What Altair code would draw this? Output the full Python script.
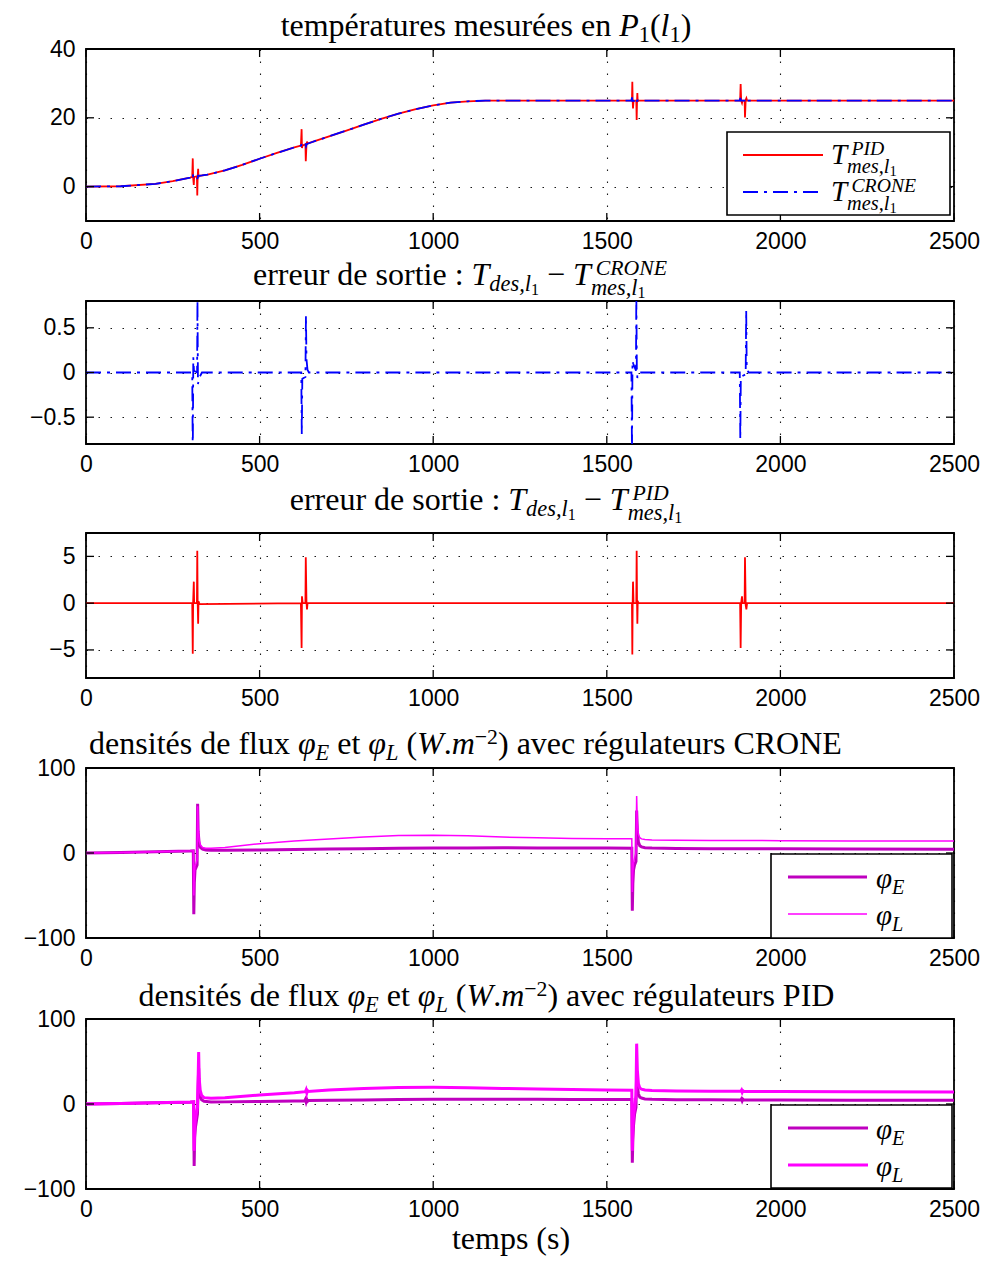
import altair as alt
import pandas as pd

SERIF = "Liberation Serif"
SANS = "Liberation Sans"
W = 868
LEFT = 77          # room left of every plot area (plot starts at page x = 8 + LEFT)
XT = [0, 500, 1000, 1500, 2000, 2500]

# ---------------- data ----------------
# panel 1 : measured temperature, PID
pid1_t = [0, 100, 200, 250, 300, 306, 307.5, 308.5, 310.5, 311.5, 319.5, 320.5, 321.5, 323, 324,
          327, 350, 400, 450, 500, 550, 600, 619, 621, 622, 624, 632, 633, 635, 636.5, 638, 650,
          700, 750, 800, 850, 900, 950, 1000, 1050, 1100, 1150, 1200, 1300, 1570, 1572.5, 1573.5,
          1574.5, 1575.5, 1577, 1585, 1586, 1587, 1588, 1589, 1592, 1884, 1885.5, 1887, 1889.4,
          1891, 1897, 1898, 1900, 1902, 1904, 2500]
pid1_v = [0, 0.1, 0.8, 1.6, 2.6, 2.8, 8.2, 2.8, 0.5, 2.8, 3.0, -2.6, 2.6, 5.2, 2.8,
          3.1, 3.5, 4.7, 6.3, 8.1, 9.8, 11.4, 11.9, 16.7, 11.2, 12.0, 12.3, 7.4, 12.2, 13.1, 12.5, 12.9,
          14.6, 16.3, 18.0, 19.7, 21.2, 22.5, 23.6, 24.4, 24.8, 25.0, 25.0, 25.0, 25.0, 25.0, 30.5,
          25.0, 22.7, 25.0, 25.0, 19.4, 24.6, 27.2, 24.8, 25.0, 25.0, 29.8, 25.0, 24.3,
          25.0, 25.0, 20.1, 25.2, 25.7, 25.0, 25.0]
# panel 1 : measured temperature, CRONE
crone1_t = [0, 100, 200, 250, 300, 306, 307.5, 309, 311, 320, 321, 322.5, 326, 334, 350, 400, 450,
            500, 550, 600, 620, 621.5, 623, 632, 633.5, 635, 638, 642, 650, 700, 750, 800, 850, 900,
            950, 1000, 1050, 1100, 1150, 1200, 1300, 1571, 1572.5, 1574, 1576, 1584, 1585, 1586.5,
            1588, 1594, 1883, 1884.5, 1886, 1900, 1901.5, 1903, 1908, 2500]
crone1_v = [0, 0.1, 0.8, 1.6, 2.6, 2.8, 3.75, 2.65, 2.85, 3.0, 2.15, 3.15, 3.15, 3.25, 3.5, 4.7, 6.3,
            8.1, 9.8, 11.4, 11.95, 12.65, 12.05, 12.35, 11.7, 12.2, 12.45, 12.6, 12.9, 14.6, 16.3, 18.0, 19.7, 21.2,
            22.5, 23.6, 24.4, 24.8, 25.0, 25.0, 25.0, 25.0, 25.9, 24.87, 24.9, 24.98, 24.1, 24.95,
            25.06, 25.0, 25.0, 25.75, 25.05, 25.02, 24.3, 24.94, 25.0, 25.0]
# panel 2 : output error, CRONE
errc_t = [0, 306, 307.5, 309, 311, 320, 321, 322.5, 326, 334, 620, 621.5, 623, 632, 633.5, 635, 638,
          642, 1571, 1572.5, 1574, 1576, 1584, 1585, 1586.5, 1588, 1594, 1883, 1884.5, 1886, 1900,
          1901.5, 1903, 1908, 2500]
errc_v = [0, 0, -0.95, 0.17, 0.02, 0, 0.85, -0.13, -0.06, 0, 0, -0.69, -0.07, -0.05, 0.64, 0.15, 0.03,
          0, 0, -0.9, 0.13, 0.1, 0.02, 0.9, 0.05, -0.06, 0, 0, -0.75, -0.05, -0.02,
          0.7, 0.06, 0, 0]
# panel 3 : output error, PID
errp_t = [0, 306, 307.5, 308.5, 310.5, 311.5, 319.5, 320.5, 321.5, 323, 324, 327, 619, 621, 622, 624,
          632, 633, 635, 636.5, 638, 1570, 1572.5, 1573.5, 1574.5, 1575.5, 1577, 1585, 1586, 1587,
          1588, 1589, 1592, 1884, 1885.5, 1887, 1889.4, 1891, 1897, 1898, 1900, 1902, 1904, 2500]
errp_v = [0, 0, -5.4, 0, 2.3, 0, 0, 5.6, 0.4, -2.2, 0.2, -0.1, 0, -4.8, 0.74, 0,
          0, 4.9, 0.1, -0.67, 0, 0, 0, -5.5, 0, 2.3, 0, 0, 5.6, 0.4,
          -2.2, 0.2, 0, 0, -4.8, 0, 0.74, 0, 0, 4.9, -0.2, -0.67, 0, 0]
# panel 4 : flux densities, CRONE
phic_t = [0, 100, 200, 300, 309, 310.5, 312, 314, 317, 320, 321.5, 323, 326, 330, 336, 345, 360, 400,
          500, 600, 700, 800, 900, 1000, 1100, 1200, 1300, 1400, 1500, 1572, 1573.5, 1575, 1577, 1580,
          1584, 1586, 1588, 1591, 1595, 1600, 1610, 1630, 1700, 1800, 2000, 2200, 2500]
phiEc_v = [0, 0.6, 1.5, 2.4, 2.6, -72, -35, -20, -17, -14, 58, 25, 11, 6.5, 4.5, 3.6, 3.2, 3.3,
           3.6, 4.0, 4.6, 5.1, 5.5, 5.8, 6.0, 6.1, 6.0, 5.9, 5.8, 5.7, -68, -36, -20, -14,
           -10, 50, 26, 13, 8.5, 7.2, 6.3, 5.8, 5.4, 5.1, 4.9, 4.7, 4.5]
phiLc_v = [0, 0.6, 1.5, 2.5, 2.7, -50, -25, -15, -12, -8, 55, 30, 14, 9, 6.5, 5.5, 5.6, 6.5,
           11.0, 14.0, 16.5, 18.8, 20.5, 21.0, 20.2, 18.8, 17.8, 17.2, 16.9, 16.8, -46, -22, -12, -6,
           0, 67, 35, 22, 18, 16.6, 15.8, 15.3, 15.0, 14.8, 14.5, 14.2, 14.0]
# panel 5 : flux densities, PID
phiEp_t = [0, 100, 200, 300, 310, 311.5, 313, 315, 318, 321, 323, 324.5, 326, 329, 333, 340, 360, 400,
           500, 600, 630, 632, 634, 636, 638, 640, 700, 800, 900, 1000, 1100, 1200, 1300, 1400, 1500,
           1572, 1573.5, 1575, 1577, 1580, 1584, 1586, 1588, 1591, 1595, 1600, 1610, 1630, 1700, 1800,
           1886, 1888, 1890, 1892, 1894, 2000, 2200, 2500]
phiEp_v = [0, 0.6, 1.4, 2.2, 2.5, -73, -40, -28, -20, -12, 20, 42, 20, 9, 5, 3.2, 2.4, 2.5,
           3.0, 3.6, 3.9, 5.5, 2.5, 5.2, 3.2, 4.0, 4.3, 4.8, 5.2, 5.5, 5.6, 5.6, 5.5, 5.4, 5.3,
           5.3, -69, -42, -25, -12, -4, 35, 22, 12, 8, 7, 6, 5.5, 5.1, 4.9,
           4.8, 6.0, 3.8, 5.6, 4.8, 4.7, 4.5, 4.4]
phiLp_t = [0, 100, 200, 300, 310, 311.5, 313, 315, 318, 321, 323, 324.5, 326, 329, 333, 340, 360, 400,
           500, 600, 632, 634, 636, 638, 640, 700, 800, 900, 1000, 1100, 1200, 1300, 1400, 1500,
           1572, 1573.5, 1575, 1577, 1580, 1584, 1586, 1588, 1591, 1595, 1600, 1610, 1630, 1700, 1800,
           1886, 1888, 1890, 1892, 1894, 2000, 2200, 2500]
phiLp_v = [0, 0.6, 1.4, 2.3, 2.6, -55, -28, -18, -10, -4, 30, 61, 30, 16, 10, 7.5, 6.7, 7.4,
           10.6, 13.3, 14.5, 16.5, 13.0, 15.8, 14.8, 16.5, 18.3, 19.3, 19.6, 19.2, 18.3, 17.6, 17.0, 16.5,
           16.1, -55, -28, -14, -4, 10, 71, 40, 24, 19, 17.5, 16.5, 15.8, 15.3, 15.0,
           14.9, 16.2, 13.8, 15.6, 14.8, 14.6, 14.3, 14.1]

for a, b in [(pid1_t, pid1_v), (crone1_t, crone1_v), (errc_t, errc_v), (errp_t, errp_v),
             (phic_t, phiEc_v), (phic_t, phiLc_v), (phiEp_t, phiEp_v), (phiLp_t, phiLp_v)]:
    assert len(a) == len(b), (len(a), len(b))

# ---------------- rich text helpers ----------------
ONE = pd.DataFrame({"d": [0]})
WR = {" ": .25, "(": .333, ")": .333, ",": .25, ".": .25, ":": .278, "−": .564,
      "a": .444, "b": .5, "c": .444, "d": .5, "e": .444, "f": .333, "g": .5, "h": .5, "i": .278,
      "l": .278, "m": .778, "n": .5, "o": .5, "p": .5, "r": .333, "s": .389, "t": .278, "u": .5,
      "v": .5, "x": .5, "é": .444, "C": .667, "D": .722, "E": .611, "I": .333, "N": .722,
      "O": .722, "P": .556, "R": .667, "T": .611}
WI = {" ": .25, ",": .25, ".": .25, "d": .5, "e": .444, "l": .278, "m": .722, "s": .389,
      "C": .667, "D": .722, "E": .611, "I": .333, "L": .556, "N": .667, "O": .722, "P": .611,
      "R": .611, "T": .556, "W": .833, "φ": .55}
LEVELS = {"n": (1.0, 0.0), "sup": (0.68, -0.3), "sub": (0.7, 0.2), "ssub": (0.7, 0.3),
          "sub2": (0.5, 0.3), "ssub2": (0.5, 0.42)}
ITALIC_CORR = 0.15


def seg_w(text, italic, size):
    tbl = WI if italic else WR
    return sum(tbl.get(c, 0.5) for c in text) * size


def layout_parts(parts, S):
    out = []
    x = 0.0

    def put(st, txt, lv, xx):
        f, d = LEVELS[lv]
        sz = S * f
        it = st == "i"
        lead = len(txt) - len(txt.lstrip(" "))
        out.append((txt.strip(" "), it, xx + lead * seg_w(" ", it, sz), d * S, sz))
        return xx + seg_w(txt, it, sz)

    for p in parts:
        if p[0] == "stack":
            wmax = 0.0
            for k, grp in enumerate((p[1], p[2])):
                xx = x + (ITALIC_CORR * S if k == 0 else 0.0)
                for (st, txt, lv) in grp:
                    xx = put(st, txt, lv, xx)
                wmax = max(wmax, xx - x)
            x += wmax
        else:
            x = put(p[0], p[1], p[2], x)
    return out, x


def rich_text(parts, x, y, S, anchor="left"):
    segs, w = layout_parts(parts, S)
    x0 = x - w / 2 if anchor == "center" else x
    layers = []
    for (txt, it, dx, dy, sz) in segs:
        layers.append(
            alt.Chart(ONE).mark_text(text=txt, font=SERIF, fontSize=sz,
                                     fontStyle="italic" if it else "normal",
                                     align="left", baseline="alphabetic", color="black")
            .encode(x=alt.value(x0 + dx), y=alt.value(y + dy)))
    return layers


def ghost(x, y):
    return alt.Chart(ONE).mark_rule(opacity=0, strokeWidth=0.5).encode(
        x=alt.value(x), x2=alt.value(x + 0.5), y=alt.value(y))


def hline(x1, x2, y, color, width, dash=None):
    kw = dict(color=color, strokeWidth=width)
    if dash:
        kw["strokeDash"] = dash
    return alt.Chart(ONE).mark_rule(**kw).encode(x=alt.value(x1), x2=alt.value(x2), y=alt.value(y))


def box(x1, x2, y1, y2):
    return alt.Chart(ONE).mark_rect(fill="white", stroke="black", strokeWidth=1.6).encode(
        x=alt.value(x1), x2=alt.value(x2), y=alt.value(y1), y2=alt.value(y2))


DASHDOT = [15, 6, 3, 6]
RED, BLUE, MAG_E, MAG_L = "#ff0000", "#0000ff", "#bf00bf", "#ff00ff"


def make_panel(h, ydom, yticks, series, extras, top_ext, bot_ext, yfmt=None):
    xe = alt.X("t:Q", scale=alt.Scale(domain=[0, 2500], nice=False, zero=False),
               axis=alt.Axis(values=XT, title=None, format="d"))
    yaxis = dict(values=yticks, title=None)
    if yfmt:
        yaxis["format"] = yfmt
    ye = alt.Y("v:Q", scale=alt.Scale(domain=ydom, nice=False, zero=False), axis=alt.Axis(**yaxis))
    layers = []
    for (tt, vv, color, width, dash) in series:
        kw = dict(color=color, strokeWidth=width, clip=True)
        if dash:
            kw["strokeDash"] = dash
        layers.append(alt.Chart(pd.DataFrame({"t": tt, "v": vv})).mark_line(**kw).encode(x=xe, y=ye))
    xtd = pd.DataFrame({"t": XT})
    ytd = pd.DataFrame({"v": yticks})
    layers.append(alt.Chart(xtd).mark_rule(color="black", strokeWidth=1.3).encode(
        x=xe, y=alt.value(0), y2=alt.value(8)))
    layers.append(alt.Chart(xtd).mark_rule(color="black", strokeWidth=1.3).encode(
        x=xe, y=alt.value(h - 8), y2=alt.value(h)))
    layers.append(alt.Chart(ytd).mark_rule(color="black", strokeWidth=1.3).encode(
        y=ye, x=alt.value(0), x2=alt.value(8)))
    layers.append(alt.Chart(ytd).mark_rule(color="black", strokeWidth=1.3).encode(
        y=ye, x=alt.value(W - 8), x2=alt.value(W)))
    layers += extras
    layers += [ghost(-LEFT, 0), ghost(W + 25, 0), ghost(0, -top_ext)]
    if bot_ext:
        layers.append(ghost(0, h + bot_ext))
    return alt.layer(*layers).properties(width=W, height=h)


S_T = 32
S_L = 29
PL = 8 + LEFT   # page x of the plot areas

T1 = [("r", "températures mesurées en ", "n"), ("i", "P", "n"), ("r", "1", "sub"), ("r", "(", "n"),
      ("i", "l", "n"), ("r", "1", "sub"), ("r", ")", "n")]


def err_title(name):
    return [("r", "erreur de sortie : ", "n"), ("i", "T", "n"), ("i", "des,l", "sub"), ("r", "1", "sub2"),
            ("r", " − ", "n"), ("i", "T", "n"),
            ("stack", [("i", name, "sup")], [("i", "mes,l", "ssub"), ("r", "1", "ssub2")])]


def flux_title(name):
    return [("r", "densités de flux ", "n"), ("i", "φ", "n"), ("i", "E", "sub"), ("r", " et ", "n"),
            ("i", "φ", "n"), ("i", "L", "sub"), ("r", " (", "n"), ("i", "W", "n"), ("r", ".", "n"),
            ("i", "m", "n"), ("r", "−2", "sup"), ("r", ") avec régulateurs " + name, "n")]


def leg_T(name):
    return [("i", "T", "n"), ("stack", [("i", name, "sup")], [("i", "mes,l", "ssub"), ("r", "1", "ssub2")])]


LEG_E = [("i", "φ", "n"), ("i", "E", "sub")]
LEG_L = [("i", "φ", "n"), ("i", "L", "sub")]
BOT = 33

# panel 1
ex1 = rich_text(T1, 485 - PL, -13, S_T, "center")
ex1 += [box(641, 864, 83, 166), hline(657, 737, 106, RED, 1.8), hline(657, 737, 143, BLUE, 1.8, DASHDOT)]
ex1 += rich_text(leg_T("PID"), 745, 115, S_L) + rich_text(leg_T("CRONE"), 745, 152, S_L)
p1 = make_panel(172, [-10, 40], [0, 20, 40],
                [(pid1_t, pid1_v, RED, 1.8, None), (crone1_t, crone1_v, BLUE, 1.8, DASHDOT)],
                ex1, 40, BOT)

# panel 2
ex2 = rich_text(err_title("CRONE"), 459 - PL, -16, S_T, "center")
p2 = make_panel(143, [-0.8, 0.8], [-0.5, 0, 0.5], [(errc_t, errc_v, BLUE, 1.8, DASHDOT)],
                ex2, 45, BOT, yfmt="~g")

# panel 3
ex3 = rich_text(err_title("PID"), 485 - PL, -23, S_T, "center")
p3 = make_panel(145, [-8, 7.5], [-5, 0, 5], [(errp_t, errp_v, RED, 1.8, None)], ex3, 54, BOT)

# panel 4
ex4 = rich_text(flux_title("CRONE"), 464.5 - PL, -14, S_T, "center")
ex4 += [box(685, 866, 86, 170), hline(702, 781, 109, MAG_E, 3), hline(702, 781, 146, MAG_L, 1.5)]
ex4 += rich_text(LEG_E, 790, 120, S_L) + rich_text(LEG_L, 790, 157, S_L)
p4 = make_panel(170, [-100, 100], [-100, 0, 100],
                [(phic_t, phiEc_v, MAG_E, 3, None), (phic_t, phiLc_v, MAG_L, 1.5, None)],
                ex4, 55, BOT)

# panel 5
ex5 = rich_text(flux_title("PID"), 485.5 - PL, -13, S_T, "center")
ex5 += [box(685, 866, 86, 169), hline(702, 782, 109, MAG_E, 3), hline(702, 782, 146, MAG_L, 3)]
ex5 += rich_text(LEG_E, 790, 120, S_L) + rich_text(LEG_L, 790, 157, S_L)
ex5 += rich_text([("r", "temps (s)", "n")], 510 - PL, 230, S_T, "center")
p5 = make_panel(170, [-100, 100], [-100, 0, 100],
                [(phiEp_t, phiEp_v, MAG_E, 3, None), (phiLp_t, phiLp_v, MAG_L, 3, None)],
                ex5, 46, 0)

chart = (
    alt.vconcat(p1, p2, p3, p4, p5, spacing=0)
    .properties(padding={"left": 0, "top": 0, "right": 0, "bottom": 0}, background="white")
    .configure_view(stroke="black", strokeWidth=1.8)
    .configure_axis(labelFont=SANS, labelFontSize=23, labelColor="black", domain=False, ticks=False,
                    tickSize=0, grid=True, gridColor="black", gridDash=[1.5, 10.5], gridWidth=1.1,
                    gridOpacity=0.9, labelOverlap=False)
    .configure_axisX(labelPadding=9, labelFlush=False)
    .configure_axisY(labelPadding=11)
)

chart.save("out.html", embed_options={"renderer": "svg", "actions": False})
